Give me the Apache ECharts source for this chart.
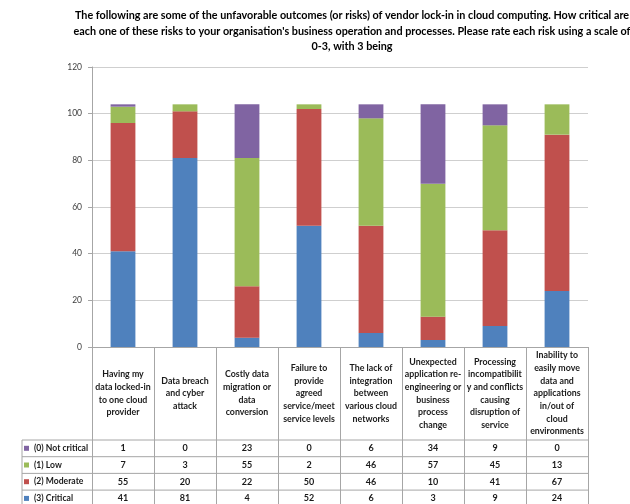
<!DOCTYPE html>
<html>
<head>
<meta charset="utf-8">
<script src="https://cdn.jsdelivr.net/npm/echarts@6/dist/echarts.min.js"></script>
<style>
  html, body { margin:0; padding:0; background:#fff; }
  #chart { width:630px; height:504px; }
</style>
</head>
<body>
<div id="chart"></div>
<script>
// chart data
var categories = [
  'Having my\ndata locked-in\nto one cloud\nprovider',
  'Data breach\nand cyber\nattack',
  'Costly data\nmigration or\ndata\nconversion',
  'Failure to\nprovide\nagreed\nservice/meet\nservice levels',
  'The lack of\nintegration\nbetween\nvarious cloud\nnetworks',
  'Unexpected\napplication re-\nengineering or\nbusiness\nprocess\nchange',
  'Processing\nincompatibilit\ny and conflicts\ncausing\ndisruption of\nservice',
  'Inability to\neasily move\ndata and\napplications\nin/out of\ncloud\nenvironments'
];
var seriesNames = ['(0) Not critical', '(1) Low', '(2) Moderate', '(3) Critical'];
var notCritical = [1, 0, 23, 0, 6, 34, 9, 0];
var low = [7, 3, 55, 2, 46, 57, 45, 13];
var moderate = [55, 20, 22, 50, 46, 10, 41, 67];
var critical = [41, 81, 4, 52, 6, 3, 9, 24];
var yTicks = { min: 0, max: 120, interval: 20 };

var titleText = 'The following are some of the unfavorable outcomes (or risks) of vendor lock-in in cloud computing. How critical are\n' +
  'each one of these risks to your organisation\'s business operation and processes. Please rate each risk using a scale of\n' +
  '0-3, with 3 being';

var colors = ['#8064A2', '#9BBB59', '#C0504D', '#4F81BD'];
var tableRows = [notCritical, low, moderate, critical];

// layout
var W = 630, H = 504;
var gridLeft = 92, gridRight = 42, gridTop = 67, gridBottom = 157;
var axisY = H - gridBottom;      // 347
var headerBottom = 440;
var rowH = 16.7;
var tableLeft = 22;
var tableRight = W - gridRight;
var FONT = 'Lato, "Liberation Sans", sans-serif';
var lineColor = '#A6A6A6';
var textColor = '#1a1a1a';

var xAxes = [{
  type: 'category',
  data: categories,
  axisLine: { lineStyle: { color: lineColor } },
  axisTick: { show: true, length: H - axisY, lineStyle: { color: lineColor } },
  axisLabel: {
    interval: 0, margin: (headerBottom - axisY) / 2, verticalAlign: 'middle',
    align: 'center', fontFamily: FONT, fontWeight: 'bold', fontSize: 8.8,
    lineHeight: 12.7, color: textColor
  }
}];
tableRows.forEach(function(row, r) {
  xAxes.push({
    type: 'category',
    data: categories,
    position: 'bottom',
    axisLine: { show: false },
    axisTick: { show: false },
    axisLabel: {
      interval: 0,
      margin: headerBottom - axisY + rowH * (r + 0.5),
      verticalAlign: 'middle', align: 'center',
      fontFamily: FONT, fontWeight: 'bold', fontSize: 9, color: textColor,
      formatter: function(v, i) { return String(row[i]); }
    }
  });
});

var series = [
  { name: seriesNames[3], data: critical, color: colors[3] },
  { name: seriesNames[2], data: moderate, color: colors[2] },
  { name: seriesNames[1], data: low, color: colors[1] },
  { name: seriesNames[0], data: notCritical, color: colors[0] }
].map(function(s) {
  return {
    name: s.name, type: 'bar', stack: 'total', barWidth: '40%',
    data: s.data, itemStyle: { color: s.color }, xAxisIndex: 0
  };
});

// title and table borders
var graphics = [{
  type: 'text', x: 352, y: 8,
  style: {
    text: titleText, align: 'center', fill: '#000',
    font: 'bold 10.8px ' + FONT, lineHeight: 15.5
  }
}];
for (var k = 0; k < 4; k++) {
  var yy = headerBottom + rowH * k;
  graphics.push({
    type: 'line', silent: true,
    shape: { x1: tableLeft, y1: yy, x2: tableRight, y2: yy },
    style: { stroke: lineColor, lineWidth: 1 }
  });
}
graphics.push({
  type: 'line', silent: true,
  shape: { x1: tableLeft, y1: headerBottom, x2: tableLeft, y2: H },
  style: { stroke: lineColor, lineWidth: 1 }
});

var option = {
  backgroundColor: '#fff',
  animation: false,
  grid: { left: gridLeft, right: gridRight, top: gridTop, bottom: gridBottom },
  legend: {
    orient: 'vertical', left: tableLeft + 2, top: headerBottom + 3.3,
    data: seriesNames, selectedMode: false,
    icon: 'rect', itemWidth: 5, itemHeight: 5, itemGap: rowH - 10,
    padding: 0,
    textStyle: { fontFamily: FONT, fontWeight: 'bold', fontSize: 8.6, lineHeight: 10, color: textColor }
  },
  xAxis: xAxes,
  yAxis: {
    type: 'value', min: yTicks.min, max: yTicks.max, interval: yTicks.interval,
    axisLine: { show: true, lineStyle: { color: lineColor } },
    axisTick: { show: true, length: 4, lineStyle: { color: lineColor } },
    axisLabel: { fontFamily: FONT, fontSize: 8.5, color: '#404040', margin: 10 },
    splitLine: { lineStyle: { color: '#CFCFCF' } }
  },
  graphic: graphics,
  series: series
};

var myChart = echarts.init(document.getElementById('chart'));
myChart.setOption(option);
</script>
</body>
</html>
